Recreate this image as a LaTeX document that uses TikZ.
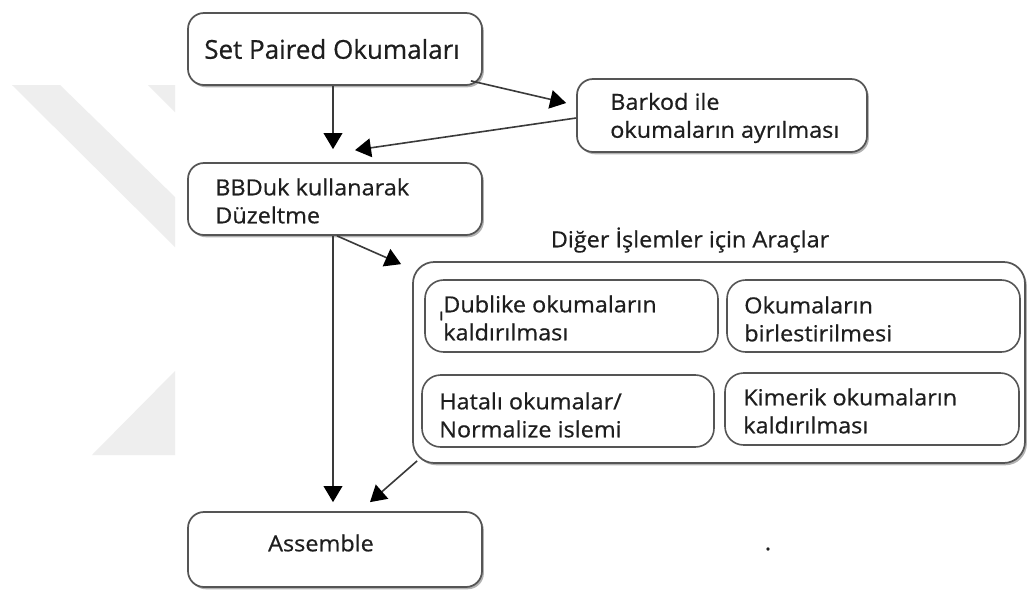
\documentclass[tikz,border=0pt]{standalone}
\usepackage{fontspec}
\setmainfont[FakeBold=0.6]{Open Sans}
\newfontfamily\boxfont[FakeStretch=1.06,FakeBold=0.6]{Open Sans}
\usetikzlibrary{arrows.meta,shadows,fit,calc}
\definecolor{wm}{HTML}{EEEEEE}
\definecolor{bord}{HTML}{555555}
\definecolor{txtc}{HTML}{1E1E1E}
\definecolor{arr}{HTML}{3A3A3A}
\tikzset{
  box/.style={draw=bord, line width=1.3pt, rounded corners=12pt, fill=white, inner sep=0pt,
    drop shadow={shadow xshift=1.4pt, shadow yshift=-1.7pt, fill=black, opacity=0.3}},
  ibox/.style={draw=bord, line width=1.2pt, rounded corners=14pt, fill=white, inner sep=0pt},
  lbl/.style={inner sep=0pt, text=txtc, font=\boxfont\fontsize{16.6pt}{21pt}\selectfont, align=left},
  big/.style={inner sep=0pt, text=txtc, font=\fontsize{19.5pt}{24pt}\selectfont},
  flow/.style={draw=arr, line width=1.2pt, -{Triangle[length=12pt,width=14pt,color=black]}}
}
\begin{document}
\begin{tikzpicture}[x=0.75pt,y=-0.75pt]
\useasboundingbox (0,0) rectangle (1027,590);
\fill[white] (0,0) rectangle (1027,590);
% watermark
\fill[wm] (12,85) -- (60,85) -- (175,197) -- (175,247) -- cycle;
\fill[wm] (148,85) -- (175,85) -- (175,112) -- cycle;
\fill[wm] (175,371) -- (92,455) -- (175,455) -- cycle;

% boxes
\node[box, fit={(188,13) (482,85)}] (sp) {};
\node[box, fit={(577,79) (867,152)}] (bark) {};
\node[box, fit={(188,163) (482,235)}] (bb) {};
\node[box, fit={(188,512) (482,587)}] (asm) {};
\node[box, rounded corners=16pt, fit={(413,262) (1025,463)}] (cont) {};
\node[ibox, fit={(425,280) (718,352)}] (dub) {};
\node[ibox, fit={(727,280) (1020,352)}] (bir) {};
\node[ibox, fit={(422,375) (714,447)}] (hat) {};
\node[ibox, fit={(725,373) (1019,445)}] (kim) {};

% texts
\node[big, anchor=west] (spt) at (204,49) {Set Paired Okumaları};
\node[lbl, anchor=west] (barkt) at (610,118) {Barkod ile\\okumaların ayrılması};
\node[lbl, anchor=west] (bbt) at (215,201) {BBDuk kullanarak\\Düzeltme};
\node[lbl] (title) at (690,240) {Diğer İşlemler için Araçlar};
\node[lbl, anchor=west] (dubt) at (443,318) {Dublike okumaların\\kaldırılması};
\node[lbl, anchor=west, font=\boxfont\fontsize{12pt}{14pt}\selectfont] (mark) at (439,316) {ı};
\node[lbl, anchor=west] (birt) at (744,319) {Okumaların\\birlestirilmesi};
\node[lbl, anchor=west] (hatt) at (439,415) {Hatalı okumalar/\\Normalize islemi};
\node[lbl, anchor=west] (kimt) at (743,411) {Kimerik okumaların\\kaldırılması};
\node[lbl] (asmt) at (321,543) {Assemble};
\node[lbl] (dot) at (768,549) {.};

% connectors
\draw[flow] ($(sp.south)+(-2,0)$) -- ($(bb.north)+(-2,-13)$);
\draw[flow] ($(sp.south east)+(-12,-5)$) -- ($(bark.west)+(-10,-12.5)$);
\draw[flow] ($(bark.west)+(0,2.5)$) -- ($(bb.north)+(20,-12)$);
\draw[flow] ($(bb.south)+(-2,0)$) -- ($(asm.north)+(-2,-9)$);
\draw[flow] ($(bb.south)+(2,0)$) -- ($(cont.north west)+(-11,3)$);
\draw[flow] ($(cont.south west)+(5,-3)$) -- ($(asm.north)+(35,-9)$);
\end{tikzpicture}
\end{document}
